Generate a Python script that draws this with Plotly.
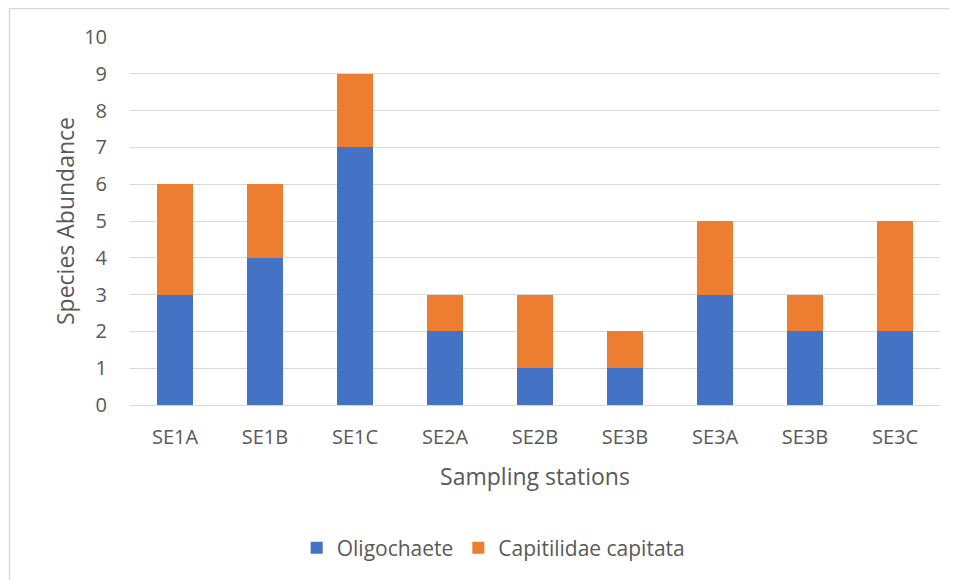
import plotly.graph_objects as go

stations = ["SE1A", "SE1B", "SE1C", "SE2A", "SE2B", "SE3B", "SE3A", "SE3B", "SE3C"]
oligochaete = [3, 4, 7, 2, 1, 1, 3, 2, 2]
capitata = [3, 2, 2, 1, 2, 1, 2, 1, 3]
positions = list(range(len(stations)))

text_color = "#595959"
grid_color = "#D9D9D9"

# page has an 8px body margin, so the figure is a bit smaller than the window
W, H = 950, 572
L, R, T, B = 122, 18, 29, 175
pw, ph = W - L - R, H - T - B

fig = go.Figure()
fig.add_trace(go.Bar(x=positions, y=oligochaete, name="Oligochaete",
                     marker=dict(color="#4472C4", line=dict(width=0)), width=0.4))
fig.add_trace(go.Bar(x=positions, y=capitata, name="Capitilidae capitata",
                     marker=dict(color="#ED7D31", line=dict(width=0)), width=0.4))

fig.update_layout(
    barmode="stack",
    width=W, height=H,
    margin=dict(l=L, r=R, t=T, b=B),
    paper_bgcolor="white", plot_bgcolor="white",
    font=dict(family="Open Sans", color=text_color, size=20),
    legend=dict(orientation="h", x=0.449, y=-0.389, xanchor="center", yanchor="middle",
                font=dict(size=21), itemwidth=30, traceorder="normal"),
    xaxis=dict(
        tickmode="array", tickvals=positions, ticktext=stations,
        range=[-0.5, len(stations) - 0.5],
        showgrid=False, zeroline=False, showline=True, linecolor=grid_color, linewidth=1,
        ticks="", ticklabelstandoff=14,
        title=dict(text="Sampling stations", font=dict(size=23), standoff=19),
    ),
    yaxis=dict(
        range=[0, 10], dtick=1, showgrid=True, gridcolor=grid_color, gridwidth=1,
        zeroline=False, ticks="", ticklabelstandoff=22,
        title=dict(text="Species Abundance", font=dict(size=23), standoff=3),
    ),
    # chart-area border: only the left and top edges fall inside the picture
    shapes=[dict(type="rect", xref="paper", yref="paper",
                 x0=(1.5 - L) / pw, x1=(W + 20 - L) / pw,
                 y0=(T + ph - H - 20) / ph, y1=(T + ph - 0.5) / ph,
                 line=dict(color=grid_color, width=1.5), fillcolor="rgba(0,0,0,0)", layer="below")],
)

fig.write_html("out.html")
